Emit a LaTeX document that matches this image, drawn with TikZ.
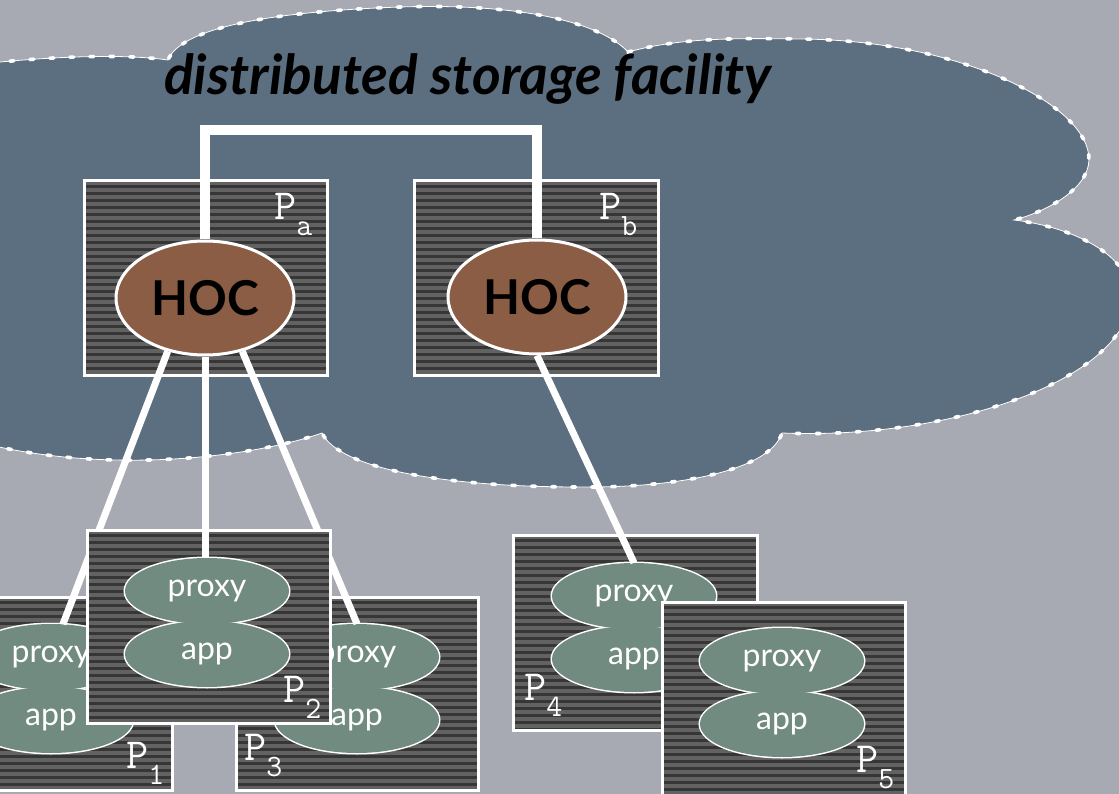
\documentclass[tikz,border=0pt]{standalone}
\usepackage{fontspec}
\setmainfont{Lato}
\usetikzlibrary{shapes.geometric,fit}

\definecolor{backgr}{HTML}{A7AAB2}
\definecolor{cloudfill}{HTML}{5C6F80}
\definecolor{boxdark}{HTML}{363636}
\definecolor{boxlight}{HTML}{626262}
\definecolor{hocfill}{HTML}{8B5D45}
\definecolor{podfill}{HTML}{718B81}

% P label with a lowered index
\newcommand\plab[1]{{\ttfamily\fontsize{43}{43}\selectfont P\raisebox{-16pt}{\fontsize{31}{31}\selectfont #1}}}

% proxy over app, name / x / y of proxy
\newcommand\podpair[3]{
  \node[podrim] (#1rima) at (#2,#3) {};
  \node[podrim] (#1rimb) at (#2,#3+63) {};
  \node[pod] (#1proxy) at (#2,#3) {proxy};
  \node[pod] (#1app) at (#2,#3+63) {app};
}

\tikzset{
  procbox/.style={fill=boxdark, draw=white, line width=3pt, inner sep=0pt,
    path picture={
      \foreach \k in {0,...,30}
        \draw[boxlight, line width=3.2pt]
          ([yshift=-\k*7pt-2pt]path picture bounding box.north west) --
          ([yshift=-\k*7pt-2pt]path picture bounding box.north east);
    }},
  hoc/.style={ellipse, draw=white, line width=3pt, fill=hocfill, inner sep=0pt,
    minimum width=178pt, minimum height=114pt, font=\fontsize{48}{48}\selectfont\bfseries},
  podrim/.style={ellipse, draw=white, line width=3pt, inner sep=0pt,
    minimum width=164pt, minimum height=66pt},
  pod/.style={ellipse, fill=podfill, inner sep=0pt, text=white,
    minimum width=164pt, minimum height=66pt, font=\fontsize{32}{32}\selectfont},
  plabel/.style={anchor=base west, inner sep=0pt, text=white},
  bridge/.style={draw=white, line width=10pt},
  spoke/.style={draw=white, line width=7pt},
}

\begin{document}
\begin{tikzpicture}[x=1pt,y=-1pt]
  \useasboundingbox (0,0) rectangle (1119,794);
  \clip (0,0) rectangle (1119,794);
  \fill[backgr] (0,0) rectangle (1119,794);

  % storage cloud
  \path[fill=cloudfill, draw=white, line width=0.8pt,
        postaction={draw=white, line width=3.6pt, line cap=round, dash pattern=on 4pt off 16pt}]
    (-10,63) .. controls (60,56) and (125,54) .. (168,60)
    .. controls (180,30) and (260,12) .. (400,7)
    .. controls (520,3) and (600,22) .. (628,52)
    .. controls (680,38) and (730,38) .. (800,39)
    .. controls (960,40) and (1090,105) .. (1089,160)
    .. controls (1088,190) and (1045,212) .. (1014,220)
    .. controls (1080,228) and (1135,260) .. (1130,300)
    .. controls (1125,380) and (950,440) .. (782,433)
    .. controls (770,470) and (680,488) .. (580,487)
    .. controls (450,487) and (340,470) .. (322,433)
    .. controls (260,455) and (120,475) .. (-10,445)
    -- cycle;
  \node[anchor=base west, inner sep=0pt] (title) at (164,95)
    {\bfseries\itshape\fontsize{55}{55}\selectfont distributed storage facility};

  % servers in the cloud
  \node[procbox, fit={(84,181) (327,375)}] (pa) {};
  \node[procbox, fit={(414,181) (658,375)}] (pb) {};
  \node[plabel] (lpa) at (274,220) {\plab{a}};
  \node[plabel] (lpb) at (599,220) {\plab{b}};
  \node[hoc] (hoca) at (205,298) {HOC};
  \node[hoc] (hocb) at (537,297) {HOC};
  \coordinate (top) at (370,130);
  \draw[bridge] (hoca.north) |- (top) -| (hocb.north);

  % clients
  \node[procbox, fit={(-10,597) (172,790)}] (p1) {};
  \podpair{p1}{51}{657}
  \node[plabel] (lp1) at (126,768) {\plab{1}};
  \node[procbox, fit={(236,597) (478,790)}] (p3) {};
  \podpair{p3}{357}{657}
  \node[plabel] (lp3) at (244,760) {\plab{3}};
  \draw[spoke] (hoca.235) -- (p1proxy.70);
  \draw[spoke] (hoca.305) -- (p3proxy.north);

  \node[procbox, fit={(87,530) (330,723)}] (p2) {};
  \podpair{p2}{207}{591}
  \node[plabel] (lp2) at (283,702) {\plab{2}};
  \draw[spoke] (hoca.south) -- (hoca.south |- p2proxy.north);

  \node[procbox, fit={(513,535) (757,730)}] (p4) {};
  \podpair{p4}{634}{596}
  \node[plabel] (lp4) at (524,700) {\plab{4}};
  \draw[spoke] (hocb.south) -- (p4proxy.north);

  \node[procbox, fit={(662,602) (905,800)}] (p5) {};
  \podpair{p5}{782}{661}
  \node[plabel] (lp5) at (856,772) {\plab{5}};
\end{tikzpicture}
\end{document}
